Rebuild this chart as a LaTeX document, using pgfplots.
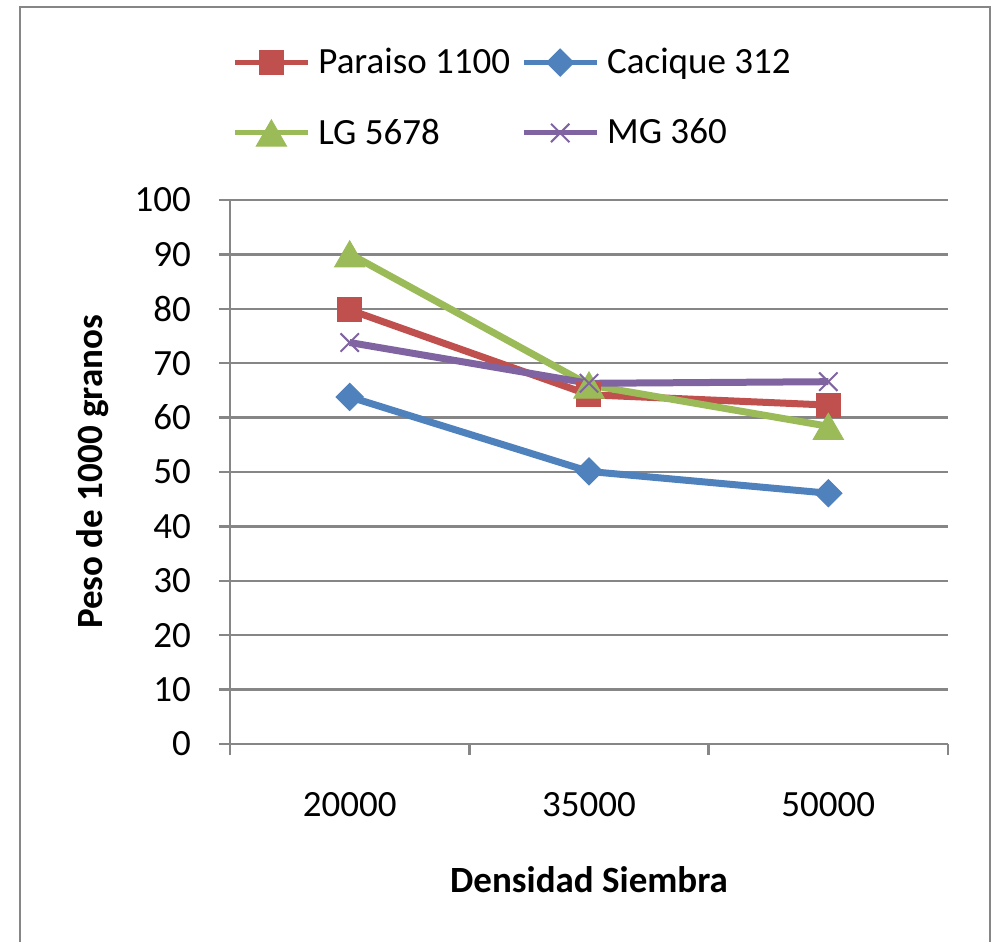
\documentclass[border=0pt]{standalone}
\usepackage{fontspec}
\setmainfont{Carlito}
\usepackage{pgfplots}
\pgfplotsset{compat=1.18}
\definecolor{cred}{HTML}{C0504D}
\definecolor{cblue}{HTML}{4F81BD}
\definecolor{cgreen}{HTML}{9BBB59}
\definecolor{cpurple}{HTML}{8064A2}
\definecolor{cgray}{HTML}{868686}
\begin{document}
\begin{tikzpicture}[font=\fontsize{18.5}{22}\selectfont]
\clip (0pt,0pt) rectangle (498.5pt,471pt);
\useasboundingbox (0pt,0pt) rectangle (498.5pt,471pt);
\draw[cgray, line width=1.3pt] (10pt,-10pt) rectangle (495pt,467.5pt);
\begin{axis}[
  at={(115pt,99pt)}, anchor=south west,
  scale only axis, width=359pt, height=272pt,
  xmin=0.5, xmax=3.5, ymin=0, ymax=100,
  axis x line*=bottom, axis y line*=left,
  axis line style={cgray, line width=1.2pt},
  xtick={0.5,1.5,2.5,3.5}, xticklabels={},
  extra x ticks={1,2,3}, extra x tick labels={20000,35000,50000},
  extra x tick style={major tick length=0pt, xticklabel style={anchor=center, yshift=-30.5pt}},
  ytick={0,10,...,100},
  tick align=outside, major tick length=5.5pt,
  tick style={cgray, line width=1.2pt},
  ymajorgrids, grid style={cgray, line width=1.2pt},
  /pgf/number format/assume math mode=true,
  yticklabel style={anchor=east, xshift=-10.5pt},
  ylabel={\bfseries Peso de 1000 granos},
  every axis y label/.style={at={([xshift=-68.5pt]axis description cs:0,0.5)}, rotate=90, anchor=center},
  xlabel={\bfseries Densidad Siembra},
  every axis x label/.style={at={([yshift=-68pt]axis description cs:0.5,0)}, anchor=center},
  legend columns=2,
  legend cell align=left,
  legend style={draw=none, fill=none, inner sep=0pt, at={(axis description cs:0,1)}, anchor=north west, xshift=1pt, yshift=76pt,
    nodes={inner sep=0pt}, row sep=21pt,
    /tikz/every odd column/.append style={column sep=4pt},
    /tikz/every even column/.append style={column sep=5.5pt}},
  legend image code/.code={\draw[mark repeat=2,mark phase=2,#1,line width=2.5pt] plot coordinates {(0pt,0pt) (18.25pt,0pt) (36.5pt,0pt)};},
]
\addplot[cred, line width=3.5pt, mark=square*, mark size=6pt, mark options={solid, line width=0.5pt}]
  coordinates {(1,79.8) (2,64.2) (3,62.3)};
\addlegendentry{Paraiso 1100}
\addplot[cblue, line width=3.5pt, mark=square*, mark size=4.8pt, mark options={solid, rotate=45, line width=0.5pt}]
  coordinates {(1,63.8) (2,50.1) (3,46.1)};
\addlegendentry{Cacique 312}
\addplot[cgreen, line width=3.5pt, mark=triangle*, mark size=8.7pt, mark options={solid, yshift=-2.2pt, line width=0.5pt}]
  coordinates {(1,90.1) (2,66.0) (3,58.4)};
\addlegendentry{LG 5678}
\addplot[cpurple, line width=3.5pt, mark=x, mark size=6.5pt, mark options={solid, line width=1pt}]
  coordinates {(1,73.8) (2,66.3) (3,66.6)};
\addlegendentry{MG 360}
\end{axis}
\end{tikzpicture}
\end{document}
